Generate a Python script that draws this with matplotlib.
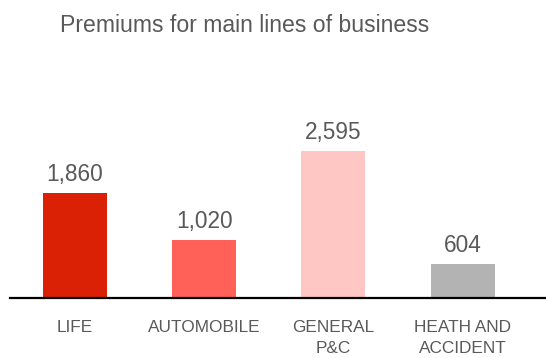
import matplotlib
matplotlib.use("Agg")
import matplotlib.pyplot as plt

plt.rcParams['font.family'] = ['Liberation Sans', 'DejaVu Sans']

categories = ["LIFE", "AUTOMOBILE", "GENERAL\nP&C", "HEATH AND\nACCIDENT"]
premiums = [1860, 1020, 2595, 604]
bar_colors = ["#DA2005", "#FF6159", "#FFC7C4", "#B3B3B3"]
title = "Premiums for main lines of business"

W, H = 546, 358
fig = plt.figure(figsize=(W / 100, H / 100), dpi=100)

base_px = 298.0
top_px = 100.0
ax = fig.add_axes([10 / W, 1 - base_px / H, (W - 10) / W, (base_px - top_px) / H])

x = list(range(len(categories)))
ax.bar(x, premiums, width=0.495, color=bar_colors)
ax.set_xlim(-0.503, 3.645)
ax.set_ylim(0, 3500)

for xi, v in zip(x, premiums):
    ax.annotate(f"{v:,}", (xi, v), xytext=(0, 5), textcoords="offset points",
                ha="center", va="bottom", fontsize=16.3, color="#595959")

for s in ["top", "right", "left"]:
    ax.spines[s].set_visible(False)
ax.spines["bottom"].set_color("black")
ax.spines["bottom"].set_linewidth(1.6)
ax.set_yticks([])
ax.set_xticks(x)
ax.set_xticklabels(categories, fontsize=12.4, color="#595959", linespacing=1.45, va="top")
ax.tick_params(axis="x", length=0, pad=16)

fig.text(60 / W, 1 - 26 / H, title, fontsize=16.6, color="#595959", ha="left", va="center")

fig.savefig("out.png", dpi=100, facecolor="white")
